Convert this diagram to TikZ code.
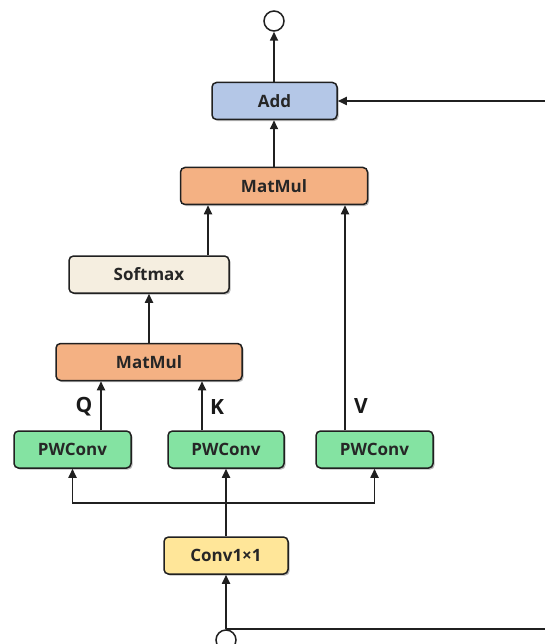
\documentclass[tikz,border=0pt]{standalone}
\usepackage{fontspec}
\setmainfont{Open Sans}
\usetikzlibrary{arrows.meta,shadows}
\definecolor{addblue}{HTML}{B4C7E7}
\definecolor{matorange}{HTML}{F4B183}
\definecolor{softcream}{HTML}{F5EEE0}
\definecolor{pwgreen}{HTML}{84E3A2}
\definecolor{convyellow}{HTML}{FFE699}
\definecolor{edgecol}{HTML}{202020}
\begin{document}
\begin{tikzpicture}[x=1pt,y=-1pt,
  blk/.style={draw=edgecol, line width=1.5pt, rounded corners=4.5pt,
    minimum height=37pt, inner sep=0pt,
    font=\fontsize{17}{19}\selectfont\bfseries, text=black!85,
    drop shadow={shadow xshift=1.6pt, shadow yshift=-1.6pt, opacity=0.28, fill=black}},
  io/.style={circle, draw=edgecol, line width=1.5pt, fill=white, minimum size=20pt, inner sep=0pt},
  arr/.style={draw=edgecol, line width=1.7pt, -{Triangle[length=9pt,width=8pt]}},
  qkv/.style={font=\fontsize{21}{24}\selectfont\bfseries, text=black!90, inner sep=0pt}]
\useasboundingbox (0,0) rectangle (544,644);

% blocks
\node[blk, fill=addblue,    minimum width=125pt] (add)  at (274.5,101)   {Add};
\node[blk, fill=matorange,  minimum width=187pt] (mm1)  at (274,186)     {MatMul};
\node[blk, fill=softcream,  minimum width=160pt] (soft) at (149,274.5)   {Softmax};
\node[blk, fill=matorange,  minimum width=186pt] (mm2)  at (149,362)     {MatMul};
\node[blk, fill=pwgreen,    minimum width=117pt] (pw1)  at (72.5,449.5)  {PWConv};
\node[blk, fill=pwgreen,    minimum width=116pt] (pw2)  at (226,449.5)   {PWConv};
\node[blk, fill=pwgreen,    minimum width=117pt] (pw3)  at (374.5,449.5) {PWConv};
\node[blk, fill=convyellow, minimum width=124pt] (conv) at (226,555.5)   {Conv1×1};

% input / output terminals
\node[io] (out) at (274,21)  {};
\node[io] (in)  at (226,640) {};

% helper points
\coordinate (br) at (226,503);
\coordinate (rt) at (549,101);

% main path
\draw[arr] (add.north -| out) -- (out.south);
\draw[arr] (mm1.north -| out) -- (add.south -| out);
\draw[arr] ([xshift=59pt]soft.north) -- ([xshift=59pt]soft.north |- mm1.south);
\draw[arr] ([xshift=-29.5pt]pw3.north) -- ([xshift=-29.5pt]pw3.north |- mm1.south);
\draw[arr] (mm2.north) -- (soft.south);
\draw[arr] ([xshift=28.5pt]pw1.north) -- ([xshift=28.5pt]pw1.north |- mm2.south);
\draw[arr] ([xshift=-24pt]pw2.north) -- ([xshift=-24pt]pw2.north |- mm2.south);

% Q, K, V labels
\node[qkv] (lq) at (84,407)  {Q};
\node[qkv] (lk) at (217,407) {K};
\node[qkv] (lv) at (361,406) {V};

% input branch
\draw[arr] (in.north) -- (conv.south);
\draw[arr] (conv.north) -- (pw2.south);
\draw[arr] (br) -| (pw1.south);
\draw[arr] (br) -| (pw3.south);

% residual connection
\draw[arr] (in.north) -- (in.north -| rt) -- (rt) -- (add.east);
\end{tikzpicture}
\end{document}
